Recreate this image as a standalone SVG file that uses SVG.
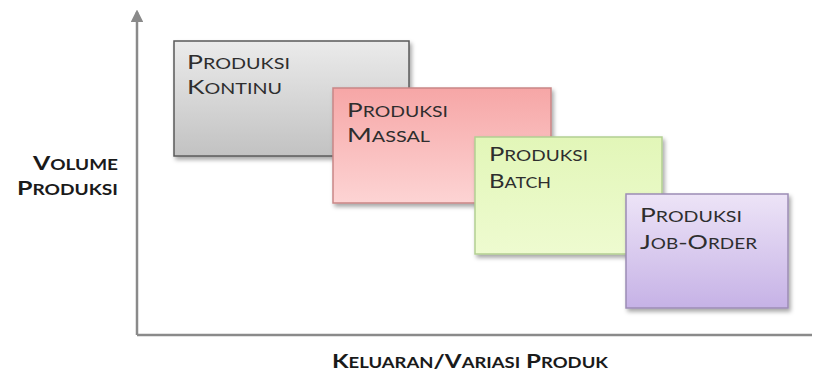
<svg xmlns="http://www.w3.org/2000/svg" width="815" height="377" viewBox="0 0 815 377">
<style>
.t{font-family:Lato,"Open Sans","Liberation Sans",sans-serif;fill:#2e2e2e;font-size:19.5px}
.t tspan.s{font-size:14.5px}
.ax{font-family:Lato,"Open Sans","Liberation Sans",sans-serif;fill:#1a1a1a;font-weight:bold;font-size:19px}
.ax tspan.s{font-size:14.5px}
.axis{stroke:#8a8a8a;stroke-width:2.5;fill:none}
</style>
<defs>
<linearGradient id="gGray" x1="0" y1="0" x2="0" y2="1"><stop offset="0" stop-color="#ebebeb"/><stop offset="1" stop-color="#c2c2c2"/></linearGradient>
<linearGradient id="gPink" x1="0" y1="0" x2="0" y2="1"><stop offset="0" stop-color="#f6a6a6"/><stop offset="1" stop-color="#fdd4d4"/></linearGradient>
<linearGradient id="gGreen" x1="0" y1="0" x2="0" y2="1"><stop offset="0" stop-color="#e2f6b8"/><stop offset="1" stop-color="#eefbd0"/></linearGradient>
<linearGradient id="gPurple" x1="0" y1="0" x2="0" y2="1"><stop offset="0" stop-color="#ede4f7"/><stop offset="1" stop-color="#c6b2e6"/></linearGradient>
<filter id="sh" x="-10%" y="-10%" width="130%" height="130%"><feDropShadow dx="2" dy="3" stdDeviation="2" flood-color="#000" flood-opacity="0.35"/></filter>
<marker id="arr" viewBox="0 0 10 10" refX="8" refY="5" markerWidth="5" markerHeight="5" orient="auto"><path d="M0,0 L10,5 L0,10 z" fill="#8a8a8a"/></marker>
</defs>
<g id="axes">
<path class="axis" d="M137,335 V12" marker-end="url(#arr)"/>
<path class="axis" d="M137,335 H812"/>
</g>
<g id="n1">
<rect x="174" y="41" width="235" height="115" fill="url(#gGray)" stroke="#5a5a5a" stroke-width="1.5" filter="url(#sh)"/>
<text class="t" x="187" y="69" textLength="103" lengthAdjust="spacingAndGlyphs">P<tspan class="s">RODUKSI</tspan></text>
<text class="t" x="187" y="94" textLength="95" lengthAdjust="spacingAndGlyphs">K<tspan class="s">ONTINU</tspan></text>
</g>
<g id="n2">
<rect x="333" y="88" width="218" height="115" fill="url(#gPink)" stroke="#c98686" stroke-width="1.5" filter="url(#sh)"/>
<text class="t" x="347" y="117" textLength="101" lengthAdjust="spacingAndGlyphs">P<tspan class="s">RODUKSI</tspan></text>
<text class="t" x="347" y="142" textLength="83" lengthAdjust="spacingAndGlyphs">M<tspan class="s">ASSAL</tspan></text>
</g>
<g id="n3">
<rect x="475" y="137" width="187" height="117" fill="url(#gGreen)" stroke="#b3cf92" stroke-width="1.5" filter="url(#sh)"/>
<text class="t" x="489" y="161" textLength="99" lengthAdjust="spacingAndGlyphs">P<tspan class="s">RODUKSI</tspan></text>
<text class="t" x="489" y="188" textLength="62" lengthAdjust="spacingAndGlyphs">B<tspan class="s">ATCH</tspan></text>
</g>
<g id="n4">
<rect x="626" y="194" width="162" height="114" fill="url(#gPurple)" stroke="#9c8cb5" stroke-width="1.5" filter="url(#sh)"/>
<text class="t" x="640" y="222" textLength="102" lengthAdjust="spacingAndGlyphs">P<tspan class="s">RODUKSI</tspan></text>
<text class="t" x="640" y="249" textLength="117" lengthAdjust="spacingAndGlyphs">J<tspan class="s">OB</tspan>-O<tspan class="s">RDER</tspan></text>
</g>
<g id="labels">
<text class="ax" x="33" y="170" textLength="85" lengthAdjust="spacingAndGlyphs">V<tspan class="s">OLUME</tspan></text>
<text class="ax" x="17" y="195" textLength="101" lengthAdjust="spacingAndGlyphs">P<tspan class="s">RODUKSI</tspan></text>
<text class="ax" x="332" y="368" textLength="276" lengthAdjust="spacingAndGlyphs">K<tspan class="s">ELUARAN</tspan>/V<tspan class="s">ARIASI</tspan> P<tspan class="s">RODUK</tspan></text>
</g>
</svg>
